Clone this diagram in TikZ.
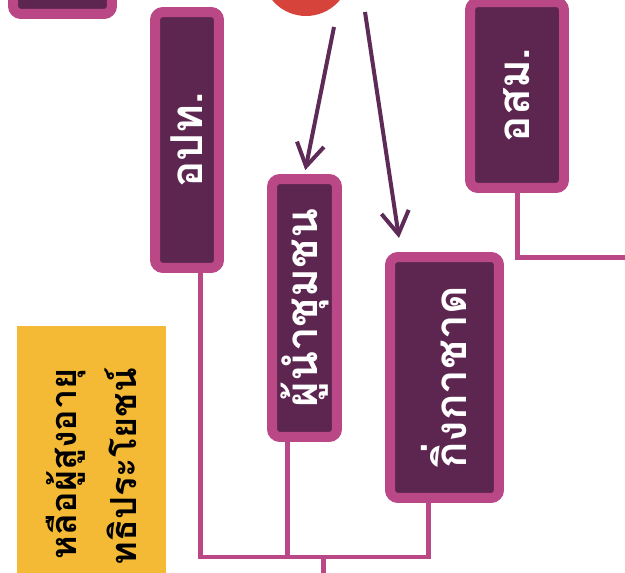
\documentclass[tikz,border=0pt]{standalone}
\usepackage{fontspec}
\newfontfamily\thaifont[Script=Thai]{Loma}
\usetikzlibrary{positioning, arrows.meta, calc}

\definecolor{boxpink}{HTML}{BA4886}
\definecolor{boxdark}{HTML}{5C2650}
\definecolor{arrowpurple}{HTML}{5E2A58}
\definecolor{hubred}{HTML}{D5433B}
\definecolor{notebg}{HTML}{F4B935}

\begin{document}
\begin{tikzpicture}[x=0.02cm, y=-0.02cm,
    orgbox/.style={draw=boxpink, fill=boxdark, line width=0.2cm, rounded corners=0.16cm, rotate=90, inner sep=0pt, text=white, font=\thaifont\bfseries\fontsize{25}{30}\selectfont},
    link/.style={draw=boxpink, line width=0.1cm},
    arrowline/.style={draw=arrowpurple, line width=0.08cm, -{Straight Barb[length=0.45cm, width=0.55cm, line width=0.08cm]}}]

    \useasboundingbox (0,0) rectangle (625,573);
    \clip (0,0) rectangle (625,573);

    % Note (yellow)
    \node[fill=notebg, rotate=90, anchor=east, minimum height=2.98cm, inner xsep=0.84cm, text width=8cm, align=right, font=\thaifont\bfseries\fontsize{20.5}{34}\selectfont] (note) at (91.5,326) {หลือผู้สูงอายุ\\ทธิประโยชน์};

    % Hub circle at the top
    \node[circle, fill=hubred, minimum size=1.76cm, inner sep=0pt] (hub) at (306,-28) {};

    % Boxes
    \node[orgbox, minimum width=2.56cm, minimum height=1.98cm] (topbox) at (62.5,-50) {};
    \node[orgbox, minimum width=5.12cm, minimum height=1.28cm] (opt) at (187,140) {อปท.};
    \node[orgbox, minimum width=3.72cm, minimum height=1.88cm] (osm) at (517,95) {อสม.};
    \node[orgbox, minimum width=5.16cm, minimum height=1.30cm] (leader) at (304.5,308) {ผู้นำชุมชน};
    \node[orgbox, minimum width=4.82cm, minimum height=2.18cm] (redcross) at (444.5,377.5) {กิ่งกาชาด};

    % Arrows from the hub
    \coordinate (tail1) at (334,27);
    \coordinate (tail2) at (365,12);
    \coordinate (tip2) at (399,238);
    \draw[arrowline, shorten >=0.08cm] (tail1) -- (leader.east);
    \draw[arrowline] (tail2) -- (tip2);

    % Links
    \coordinate (bus) at (323,557);
    \coordinate (busend) at (323,600);
    \coordinate (osmend) at (640,258);
    \draw[link] ($(opt.west)+(13,0)$) |- (bus) -| ($(redcross.west)+(-16.5,0)$);
    \draw[link] ($(leader.west)+(-17.5,0)$) |- (bus);
    \draw[link] (bus) -- (busend);
    \draw[link] (osm.west) |- (osmend);

\end{tikzpicture}
\end{document}
